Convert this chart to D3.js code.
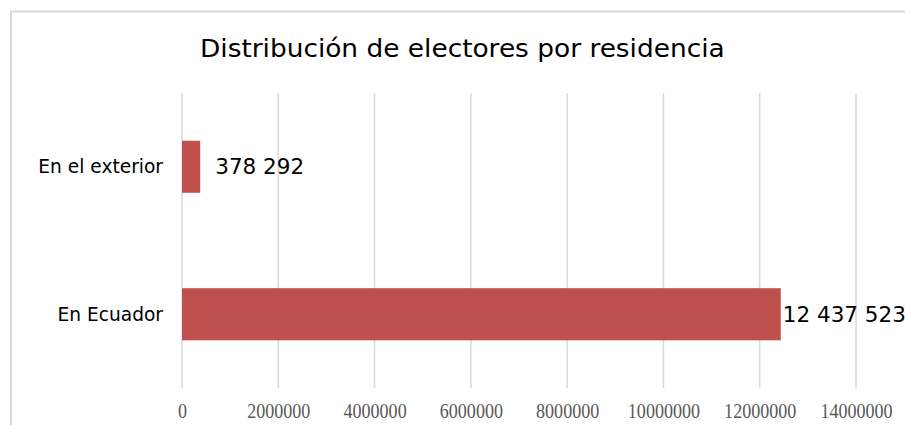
<!DOCTYPE html>
<html>
<head>
<meta charset="utf-8">
<script src="https://cdn.jsdelivr.net/npm/d3@7"></script>
<style>
  body { margin: 0; background: #fff; }
  svg { display: block; }
</style>
</head>
<body>
<div id="chart"></div>
<script>
const title = 'Distribución de electores por residencia';
const categories = ['En el exterior', 'En Ecuador'];
const values = [378292, 12437523];
const valueLabels = ['378 292', '12 437 523'];
const tickValues = [0, 2000000, 4000000, 6000000, 8000000, 10000000, 12000000, 14000000];

const width = 905, height = 425;
const barColor = '#c0504d';
const gridColor = '#d9d9d9';

let svg = d3.select('#chart')
  .append('svg')
  .attr('width', width)
  .attr('height', height);

// chart frame, runs off the right and bottom edges
svg.append('rect')
  .attr('x', 11)
  .attr('y', 11.5)
  .attr('width', width)
  .attr('height', height)
  .attr('fill', 'none')
  .attr('stroke', gridColor)
  .attr('stroke-width', 2);

let x = d3.scaleLinear()
  .domain([0, 14000000])
  .range([182, 856]);

let y = d3.scaleBand()
  .domain(categories)
  .range([93, 388])
  .paddingInner(0.647)
  .paddingOuter(0.3235);

// gridlines
svg.append('g')
  .selectAll('line')
  .data(tickValues)
  .enter().append('line')
  .attr('x1', d => x(d))
  .attr('x2', d => x(d))
  .attr('y1', 93)
  .attr('y2', 388)
  .attr('stroke', gridColor)
  .attr('stroke-width', 1.5);

// x axis labels (no domain line, no ticks)
let axis = svg.append('g')
  .attr('transform', 'translate(0,418)')
  .call(d3.axisBottom(x).tickValues(tickValues).tickSize(0).tickPadding(0).tickFormat(d3.format('d')));
axis.select('.domain').remove();
axis.selectAll('text')
  .attr('dy', 0)
  .attr('y', 0)
  .attr('font-family', '"Liberation Serif", "Times New Roman", serif')
  .attr('font-size', 21)
  .attr('fill', '#595959')
  .style('transform-box', 'fill-box')
  .style('transform-origin', 'center')
  .style('transform', 'scaleX(0.86)');

// bars
svg.append('g')
  .selectAll('rect')
  .data(categories)
  .enter().append('rect')
  .attr('x', x(0))
  .attr('y', d => y(d))
  .attr('width', (d, i) => x(values[i]) - x(0))
  .attr('height', y.bandwidth())
  .attr('fill', barColor);

// category labels
svg.append('g')
  .selectAll('text')
  .data(categories)
  .enter().append('text')
  .attr('x', 163)
  .attr('y', d => y(d) + y.bandwidth() / 2)
  .attr('dy', '0.36em')
  .attr('text-anchor', 'end')
  .attr('font-family', '"DejaVu Sans", Verdana, sans-serif')
  .attr('font-size', 18.6)
  .attr('fill', '#000')
  .text(d => d);

// value labels
let labelDx = i => i === 0 ? 15 : 2;
svg.append('g')
  .selectAll('text')
  .data(categories)
  .enter().append('text')
  .attr('x', (d, i) => x(values[i]) + labelDx(i))
  .attr('y', d => y(d) + y.bandwidth() / 2)
  .attr('dy', '0.36em')
  .attr('font-family', '"DejaVu Sans", Verdana, sans-serif')
  .attr('font-size', 21.5)
  .attr('fill', '#000')
  .text((d, i) => valueLabels[i]);

// title, squeezed to the width it has in the original
let t = svg.append('text')
  .attr('x', 0)
  .attr('y', 57)
  .attr('font-family', '"DejaVu Sans", Verdana, sans-serif')
  .attr('font-size', 25.5)
  .attr('fill', '#000')
  .text(title);
let tw = t.node().getComputedTextLength();
t.attr('transform', `translate(200,0) scale(${525 / tw},1)`);
</script>
</body>
</html>
